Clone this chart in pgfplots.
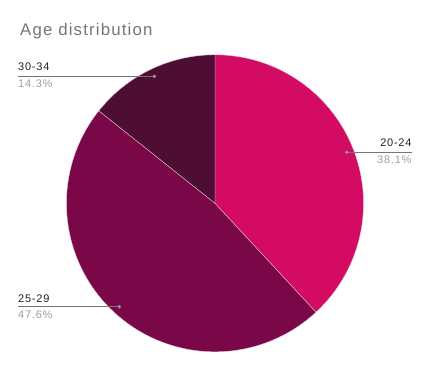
\documentclass[border=0pt]{standalone}
\usepackage{fontspec}
\setmainfont{Liberation Sans}[LetterSpace=7]
\usepackage{pgfplots}
\pgfplotsset{compat=1.18}
\usepackage{pgfplotstable}
\definecolor{cA}{HTML}{D30B62}
\definecolor{cB}{HTML}{7A0747}
\definecolor{cC}{HTML}{4E0E33}
\definecolor{titlegray}{HTML}{757575}
\definecolor{linegray}{HTML}{757575}
\definecolor{dotgray}{HTML}{999999}
\definecolor{pctgray}{HTML}{9E9E9E}
\definecolor{labblack}{HTML}{222222}
\definecolor{sep}{HTML}{E8C8D8}

\pgfplotstableread{
label value
20-24 38.1
25-29 47.6
30-34 14.3
}\agedata
\pgfplotstablegetelem{0}{value}\of\agedata \let\vA\pgfplotsretval
\pgfplotstablegetelem{1}{value}\of\agedata \let\vB\pgfplotsretval
\pgfplotstablegetelem{2}{value}\of\agedata \let\vC\pgfplotsretval
\pgfmathsetmacro{\aZero}{90}
\pgfmathsetmacro{\aOne}{90-3.6*\vA}
\pgfmathsetmacro{\aTwo}{\aOne-3.6*\vB}
\pgfmathsetmacro{\aThree}{\aTwo-3.6*\vC}

\begin{document}
\begin{tikzpicture}
\begin{axis}[
  width=431bp, height=371bp, scale only axis,
  xmin=0, xmax=431, ymin=0, ymax=371,
  hide axis, clip=false,
]
\path (axis cs:0,0) rectangle (axis cs:431,371);
% slices
\addplot[fill=cA, draw=sep, line width=0.35bp, domain=\aOne:\aZero, samples=120, variable=\t]
  ({215+148.5*cos(\t)},{167.7+148.5*sin(\t)}) -- (axis cs:215,167.7) -- cycle;
\addplot[fill=cB, draw=sep, line width=0.35bp, domain=\aTwo:\aOne, samples=150, variable=\t]
  ({215+148.5*cos(\t)},{167.7+148.5*sin(\t)}) -- (axis cs:215,167.7) -- cycle;
\addplot[fill=cC, draw=sep, line width=0.35bp, domain=\aThree:\aTwo, samples=60, variable=\t]
  ({215+148.5*cos(\t)},{167.7+148.5*sin(\t)}) -- (axis cs:215,167.7) -- cycle;
% leader lines
\addplot[linegray, line width=0.9bp] coordinates {(346.7,218.7) (411.7,218.7)};
\addplot[linegray, line width=0.9bp] coordinates {(18,64.3) (119.3,64.3)};
\addplot[linegray, line width=0.9bp] coordinates {(18,294.7) (154.3,294.7)};
\addplot[only marks, mark=*, mark size=1.5bp, dotgray] coordinates {(346.7,218.7) (119.3,64.3) (154.3,294.7)};
% texts
\node[anchor=base west, inner sep=0pt, font=\fontsize{16.8bp}{19bp}\selectfont, text=titlegray] at (axis cs:20,335) {Age distribution};
\node[anchor=base west, inner sep=0pt, font=\fontsize{11bp}{12bp}\selectfont, text=labblack] at (axis cs:18,300) {30-34};
\node[anchor=base west, inner sep=0pt, font=\fontsize{11bp}{12bp}\selectfont, text=pctgray] at (axis cs:18,283) {14.3\%};
\node[anchor=base east, inner sep=0pt, font=\fontsize{11bp}{12bp}\selectfont, text=labblack] at (axis cs:411.7,224.3) {20-24};
\node[anchor=base east, inner sep=0pt, font=\fontsize{11bp}{12bp}\selectfont, text=pctgray] at (axis cs:411.7,207) {38.1\%};
\node[anchor=base west, inner sep=0pt, font=\fontsize{11bp}{12bp}\selectfont, text=labblack] at (axis cs:18,68.3) {25-29};
\node[anchor=base west, inner sep=0pt, font=\fontsize{11bp}{12bp}\selectfont, text=pctgray] at (axis cs:18,52) {47.6\%};
\end{axis}
\end{tikzpicture}
\end{document}
